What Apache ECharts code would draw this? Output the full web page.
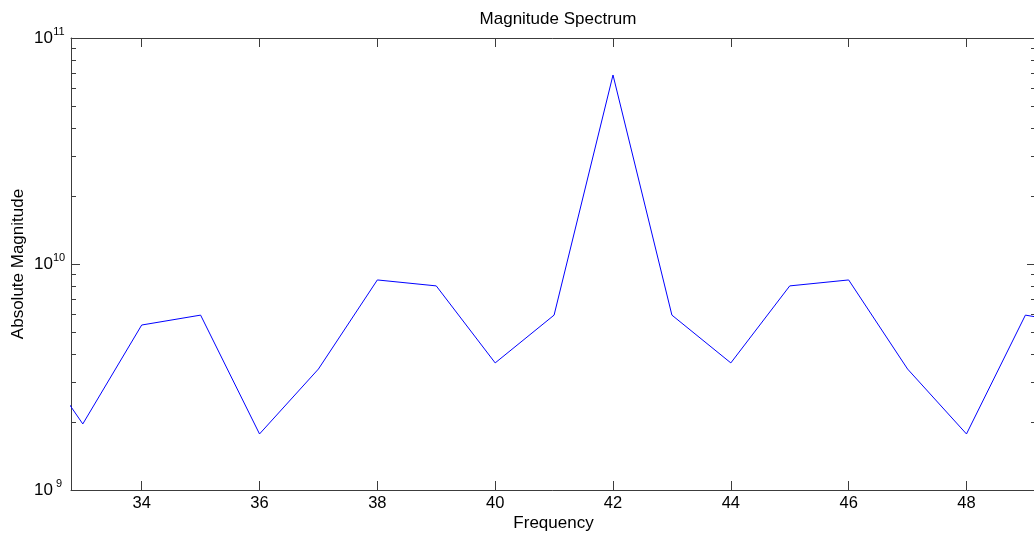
<!DOCTYPE html>
<html>
<head>
<meta charset="utf-8">
<script src="https://cdn.jsdelivr.net/npm/echarts@6/dist/echarts.min.js"></script>
<style>
    html, body {margin: 0; padding: 0; background: #fff;}
    #chart {width: 1034px; height: 538px;}
</style>
</head>
<body>
<div id="chart"></div>
<script>
// frequency bins and magnitudes
const freqs = [32, 33, 34, 35, 36, 37, 38, 39, 40, 41, 42, 43, 44, 45, 46, 47, 48, 49, 50]
const magnitudes = [
    4.7e9, 1.96e9, 5.37e9, 5.94e9, 1.77e9, 3.43e9, 8.5e9, 8.0e9, 3.65e9, 5.94e9,
    6.86e10,
    5.94e9, 3.65e9, 8.0e9, 8.5e9, 3.43e9, 1.77e9, 5.94e9, 5.37e9,
]
const xTicks = [34, 36, 38, 40, 42, 44, 46, 48]
const yMajor = [1e9, 1e10, 1e11]
const yMinor = [
    2e9, 3e9, 4e9, 5e9, 6e9, 7e9, 8e9, 9e9,
    2e10, 3e10, 4e10, 5e10, 6e10, 7e10, 8e10, 9e10,
]

const axisColor = '#3c3c3c'
const font = 'Liberation Sans, Arial, sans-serif'

const chart = echarts.init(document.getElementById('chart'))

// helper axes in log10 space, used only for the inward ticks on the right
const tickAxis = (values, len) => ({
    type: 'value',
    position: 'right',
    min: 9,
    max: 11,
    axisLine: {show: false},
    splitLine: {show: false},
    axisLabel: {show: false},
    axisTick: {
        show: true,
        inside: true,
        length: len,
        customValues: values.map(v => Math.log10(v)),
        lineStyle: {color: axisColor, width: 1},
    },
})

chart.setOption({
    animation: false,
    backgroundColor: '#fff',
    title: {
        text: 'Magnitude Spectrum',
        left: 553,
        textAlign: 'center',
        top: 6,
        textStyle: {fontFamily: font, fontSize: 17, fontWeight: 'normal', color: '#000'},
    },
    grid: {left: 71, top: 38, width: 965, height: 452, outerBoundsMode: 'none'},
    xAxis: [
        {
            type: 'value',
            min: 32.8,
            max: 49.18,
            name: 'Frequency',
            nameLocation: 'middle',
            nameGap: 25,
            nameMoveOverlap: false,
            nameTextStyle: {fontFamily: font, fontSize: 17, color: '#000'},
            axisLine: {show: true, lineStyle: {color: axisColor, width: 1}},
            axisTick: {show: true, inside: true, length: 9, customValues: xTicks, lineStyle: {color: axisColor}},
            axisLabel: {
                customValues: xTicks,
                margin: 5,
                fontFamily: font,
                fontSize: 16.5,
                color: '#000',
            },
            splitLine: {show: false},
        },
        {
            type: 'value',
            position: 'top',
            min: 32.8,
            max: 49.18,
            axisLine: {show: true, lineStyle: {color: axisColor, width: 1}},
            axisTick: {show: true, inside: true, length: 9, customValues: xTicks, lineStyle: {color: axisColor}},
            axisLabel: {show: false},
            splitLine: {show: false},
        },
    ],
    yAxis: [
        {
            type: 'log',
            logBase: 10,
            min: 1e9,
            max: 1e11,
            position: 'left',
            name: 'Absolute Magnitude',
            nameLocation: 'middle',
            nameGap: 44,
            nameMoveOverlap: false,
            nameTextStyle: {fontFamily: font, fontSize: 17, color: '#000'},
            axisLine: {show: true, lineStyle: {color: axisColor, width: 1}},
            axisTick: {show: true, inside: true, length: 9, lineStyle: {color: axisColor}},
            axisLabel: {
                margin: 6,
                formatter: v => '{b|10}{s|' + Math.round(Math.log10(v)) + '}',
                rich: {
                    b: {fontFamily: font, fontSize: 17, color: '#000', lineHeight: 24},
                    s: {fontFamily: font, fontSize: 11, color: '#000', verticalAlign: 'top', width: 12, align: 'left'},
                },
            },
            splitLine: {show: false},
        },
        Object.assign(tickAxis(yMajor, 9), {axisLine: {show: true, lineStyle: {color: axisColor}}}),
        tickAxis(yMinor, 5),
    ],
    series: [
        {
            type: 'line',
            xAxisIndex: 0,
            yAxisIndex: 0,
            data: freqs.map((f, i) => [f, magnitudes[i]]),
            showSymbol: false,
            clip: true,
            lineStyle: {color: '#0000ff', width: 1},
            itemStyle: {color: '#0000ff'},
        },
    ],
})

// minor log ticks on the left edge, placed through the axis scale
const leftX = chart.convertToPixel({xAxisIndex: 0}, 32.8)
chart.setOption({
    graphic: yMinor.map(v => {
        const y = Math.round(chart.convertToPixel({yAxisIndex: 0}, v)) + 0.5
        return {
            type: 'line',
            silent: true,
            shape: {x1: leftX, y1: y, x2: leftX + 5, y2: y},
            style: {stroke: axisColor, lineWidth: 1},
        }
    }),
})
</script>
</body>
</html>
